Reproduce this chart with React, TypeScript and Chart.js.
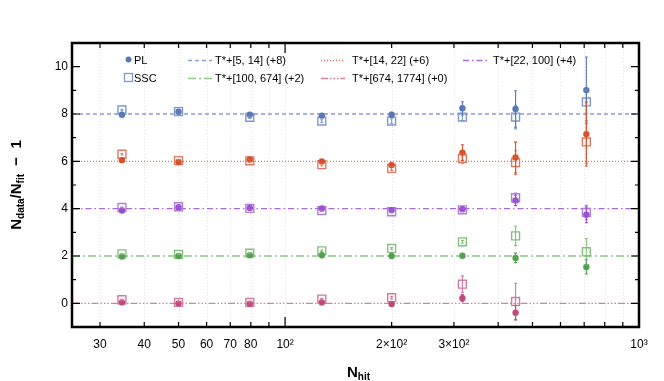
import { useEffect, useRef } from "react";
import { Chart, registerables } from "chart.js";
Chart.register(...registerables);

// ---- data ----
const nHit = [34.6, 50, 79.5, 127, 200, 317, 448, 710];

const plBlue = [7.97, 8.1, 7.97, 7.93, 7.97, 8.24, 8.21, 9.01];
const plBlueErr = [0.03, 0.04, 0.04, 0.05, 0.1, 0.28, 0.77, 1.4];
const sscBlue = [8.17, 8.1, 7.86, 7.7, 7.7, 7.87, 7.87, 8.51];
const sscBlueErr = [0.03, 0.04, 0.05, 0.06, 0.1, 0.15, 0.5, 0.5];

const plRed = [6.05, 5.97, 6.08, 5.99, 5.84, 6.37, 6.16, 7.15];
const plRedErr = [0.03, 0.04, 0.05, 0.06, 0.1, 0.33, 0.65, 1.35];
const sscRed = [6.3, 6.03, 6.02, 5.86, 5.7, 6.12, 5.95, 6.82];
const sscRedErr = [0.03, 0.04, 0.05, 0.06, 0.08, 0.2, 0.5, 0.9];

const plPurple = [3.92, 4.06, 4.03, 4.01, 3.94, 3.98, 4.35, 3.74];
const plPurpleErr = [0.02, 0.03, 0.03, 0.04, 0.05, 0.08, 0.22, 0.33];
const sscPurple = [4.05, 4.08, 4.01, 3.92, 3.87, 3.95, 4.46, 3.84];
const sscPurpleErr = [0.02, 0.03, 0.03, 0.04, 0.05, 0.08, 0.2, 0.3];

const plGreen = [1.98, 2.0, 2.03, 2.03, 2.0, 2.01, 1.92, 1.54];
const plGreenErr = [0.02, 0.02, 0.03, 0.03, 0.04, 0.06, 0.2, 0.3];
const sscGreen = [2.09, 2.07, 2.12, 2.22, 2.32, 2.6, 2.85, 2.18];
const sscGreenErr = [0.02, 0.02, 0.03, 0.03, 0.04, 0.06, 0.41, 0.56];

const plPink = [0.04, 0.0, -0.02, 0.04, -0.03, 0.22, -0.4, null];
const plPinkErr = [0.02, 0.02, 0.03, 0.03, 0.05, 0.15, 0.3, null];
const sscPink = [0.15, 0.04, 0.04, 0.18, 0.24, 0.81, 0.08, null];
const sscPinkErr = [0.02, 0.02, 0.03, 0.03, 0.05, 0.35, 0.77, null];

const seriesLabels = [
  "T*+[5, 14] (+8)",
  "T*+[14, 22] (+6)",
  "T*+[22, 100] (+4)",
  "T*+[100, 674] (+2)",
  "T*+[674, 1774] (+0)",
];
const seriesOffsets = [8, 6, 4, 2, 0];

const xTickValues = [30, 40, 50, 60, 70, 80, 90, 100, 200, 300, 400, 500, 600, 700, 800, 900, 1000];
const xTickLabels = ["30", "40", "50", "60", "70", "80", "", "10²", "2×10²", "3×10²", "", "", "", "", "", "", "10³"];
const xMajor = [100, 1000];
const yTickValues = [0, 2, 4, 6, 8, 10];
const yMinorValues = [-1, 1, 3, 5, 7, 9, 11];

// ---- styles ----
const styles = [
  { dot: "#5a77b6", sq: "#7f97cb", line: "#86a0d2", dash: [4, 3] },
  { dot: "#d4512c", sq: "#df7a62", line: "#e4725a", dash: [1, 2] },
  { dot: "#9b4fcf", sq: "#b07cdc", line: "#a86ad8", dash: [6, 3, 1.5, 3] },
  { dot: "#51a150", sq: "#84c07c", line: "#8fc889", dash: [8, 3, 2, 3] },
  { dot: "#bf4b7e", sq: "#d27aa1", line: "#d680a5", dash: [7, 2, 1.5, 2, 1.5, 2, 1.5, 2] },
];

const plSets = [plBlue, plRed, plPurple, plGreen, plPink];
const plErrs = [plBlueErr, plRedErr, plPurpleErr, plGreenErr, plPinkErr];
const sscSets = [sscBlue, sscRed, sscPurple, sscGreen, sscPink];
const sscErrs = [sscBlueErr, sscRedErr, sscPurpleErr, sscGreenErr, sscPinkErr];

const FONT = '"Liberation Sans", Arial, Helvetica, sans-serif';

function drawRich(ctx: CanvasRenderingContext2D, parts: [string, boolean][], x: number, y: number, big: number, small: number, center: boolean) {
  const fontOf = (sub: boolean) => `bold ${sub ? small : big}px ${FONT}`;
  let total = 0;
  for (const [t, sub] of parts) {
    ctx.font = fontOf(sub);
    total += ctx.measureText(t).width;
  }
  let cx = center ? x - total / 2 : x;
  ctx.textBaseline = "alphabetic";
  ctx.textAlign = "left";
  for (const [t, sub] of parts) {
    ctx.font = fontOf(sub);
    ctx.fillText(t, cx, sub ? y + 3 : y);
    cx += ctx.measureText(t).width;
  }
}

const plugin = {
  id: "custom",
  beforeDatasetsDraw(chart: any) {
    const { ctx, chartArea: a, scales } = chart;
    const xs = scales.x;
    ctx.save();
    ctx.strokeStyle = "#e2e2e2";
    ctx.lineWidth = 1;
    ctx.setLineDash([1, 2]);
    for (const v of xTickValues) {
      const px = Math.round(xs.getPixelForValue(v)) + 0.5;
      ctx.beginPath();
      ctx.moveTo(px, a.top);
      ctx.lineTo(px, a.bottom);
      ctx.stroke();
    }
    ctx.restore();
  },
  afterDatasetsDraw(chart: any) {
    const { ctx, scales } = chart;
    const xs = scales.x, ys = scales.y;
    ctx.save();
    ctx.lineWidth = 1.1;
    const drawErr = (vals: (number | null)[], errs: (number | null)[], color: string) => {
      ctx.strokeStyle = color;
      vals.forEach((v, i) => {
        const e = errs[i];
        if (v == null || e == null) return;
        const px = xs.getPixelForValue(nHit[i]);
        const p1 = ys.getPixelForValue(v - e);
        const p2 = ys.getPixelForValue(v + e);
        ctx.beginPath();
        ctx.moveTo(px, p1);
        ctx.lineTo(px, p2);
        ctx.moveTo(px - 1.5, p1);
        ctx.lineTo(px + 1.5, p1);
        ctx.moveTo(px - 1.5, p2);
        ctx.lineTo(px + 1.5, p2);
        ctx.stroke();
      });
    };
    for (let s = 0; s < 5; s++) {
      drawErr(sscSets[s], sscErrs[s], styles[s].sq);
      drawErr(plSets[s], plErrs[s], styles[s].dot);
    }
    ctx.restore();
  },
  afterDraw(chart: any) {
    const { ctx, chartArea: a, scales } = chart;
    const xs = scales.x, ys = scales.y;
    ctx.save();
    // ticks (inward)
    ctx.strokeStyle = "#000";
    ctx.lineWidth = 1.2;
    ctx.beginPath();
    for (const v of xTickValues) {
      const px = xs.getPixelForValue(v);
      const len = xMajor.includes(v) ? 10 : 5;
      ctx.moveTo(px, a.bottom);
      ctx.lineTo(px, a.bottom - len);
      ctx.moveTo(px, a.top);
      ctx.lineTo(px, a.top + len);
    }
    for (const v of yTickValues) {
      const py = ys.getPixelForValue(v);
      ctx.moveTo(a.left, py);
      ctx.lineTo(a.left + 8, py);
      ctx.moveTo(a.right, py);
      ctx.lineTo(a.right - 8, py);
    }
    for (const v of yMinorValues) {
      const py = ys.getPixelForValue(v);
      ctx.moveTo(a.left, py);
      ctx.lineTo(a.left + 4, py);
      ctx.moveTo(a.right, py);
      ctx.lineTo(a.right - 4, py);
    }
    ctx.stroke();
    // frame
    ctx.lineWidth = 2.5;
    ctx.strokeRect(a.left, a.top, a.right - a.left, a.bottom - a.top);

    // legend
    const row1 = 60.5, row2 = 78.5;
    ctx.font = `11px ${FONT}`;
    ctx.textBaseline = "middle";
    ctx.textAlign = "left";
    // PL
    ctx.fillStyle = styles[0].dot;
    ctx.beginPath();
    ctx.arc(128.5, row1 - 1, 3, 0, Math.PI * 2);
    ctx.fill();
    ctx.fillStyle = "#000";
    ctx.fillText("PL", 134, row1);
    // SSC
    ctx.strokeStyle = styles[0].sq;
    ctx.lineWidth = 1.3;
    ctx.strokeRect(124.5, row2 - 5, 8, 8);
    ctx.fillText("SSC", 134, row2);
    const legendPos = [
      { lx: 188, tx: 215, y: row1 },
      { lx: 321, tx: 352, y: row1 },
      { lx: 463, tx: 493, y: row1 },
      { lx: 188, tx: 215, y: row2 },
      { lx: 321, tx: 352, y: row2 },
    ];
    legendPos.forEach((p, i) => {
      ctx.strokeStyle = styles[i].line;
      ctx.lineWidth = 1.3;
      ctx.setLineDash(styles[i].dash);
      ctx.beginPath();
      ctx.moveTo(p.lx, p.y);
      ctx.lineTo(p.lx + 24, p.y);
      ctx.stroke();
      ctx.setLineDash([]);
      ctx.fillStyle = "#000";
      ctx.fillText(seriesLabels[i], p.tx, p.y);
    });

    // axis titles
    ctx.fillStyle = "#000";
    drawRich(ctx, [["N", false], ["hit", true]], (a.left + a.right) / 2 + 3, 377, 15, 10, true);
    ctx.save();
    ctx.translate(21, (a.top + a.bottom) / 2);
    ctx.rotate(-Math.PI / 2);
    drawRich(ctx, [["N", false], ["data", true], ["/N", false], ["fit", true], ["  −  1", false]], 0, 0, 15, 10, true);
    ctx.restore();
    ctx.restore();
  },
};

export default function App() {
  const ref = useRef<HTMLCanvasElement | null>(null);
  useEffect(() => {
    document.body.style.margin = "0";
    const canvas = ref.current!;
    const datasets: any[] = [];
    for (let s = 0; s < 5; s++) {
      datasets.push({
        label: "PL " + seriesLabels[s],
        data: nHit.map((x, i) => ({ x, y: plSets[s][i] })).filter((p) => p.y != null),
        pointStyle: "circle",
        pointRadius: 3.2,
        backgroundColor: styles[s].dot,
        borderColor: styles[s].dot,
        borderWidth: 0,
        showLine: false,
        order: 1,
      });
      datasets.push({
        label: "SSC " + seriesLabels[s],
        data: nHit.map((x, i) => ({ x, y: sscSets[s][i] })).filter((p) => p.y != null),
        pointStyle: "rect",
        pointRadius: 5.6,
        backgroundColor: "rgba(255,255,255,0)",
        borderColor: styles[s].sq,
        borderWidth: 1.4,
        showLine: false,
        order: 2,
      });
      datasets.push({
        label: seriesLabels[s],
        data: [
          { x: 25, y: seriesOffsets[s] },
          { x: 1000, y: seriesOffsets[s] },
        ],
        showLine: true,
        pointRadius: 0,
        borderColor: styles[s].line,
        borderWidth: 1.3,
        borderDash: styles[s].dash,
        order: 5,
      });
    }
    const chart = new Chart(canvas, {
      type: "scatter",
      data: { datasets },
      options: {
        animation: false,
        responsive: false,
        devicePixelRatio: 1,
        layout: { padding: { top: 43, right: 25, bottom: 0, left: 0 } },
        plugins: { legend: { display: false }, tooltip: { enabled: false }, title: { display: false } },
        scales: {
          x: {
            type: "logarithmic",
            min: 25,
            max: 1000,
            afterBuildTicks: (scale: any) => {
              scale.ticks = xTickValues.map((v) => ({ value: v }));
            },
            afterFit: (scale: any) => {
              scale.height = 54;
            },
            grid: { display: false, drawTicks: false, tickLength: 0 },
            border: { display: false },
            ticks: {
              autoSkip: false,
              maxRotation: 0,
              minRotation: 0,
              padding: 10,
              color: "#000",
              font: { size: 12, family: FONT },
              callback: (_v: any, idx: number) => xTickLabels[idx],
            },
          },
          y: {
            type: "linear",
            min: -1,
            max: 11,
            afterBuildTicks: (scale: any) => {
              scale.ticks = yTickValues.map((v) => ({ value: v }));
            },
            afterFit: (scale: any) => {
              scale.width = 72;
            },
            grid: { display: false, drawTicks: false, tickLength: 0 },
            border: { display: false },
            ticks: {
              padding: 4,
              color: "#000",
              font: { size: 12, family: FONT },
              callback: (v: any) => String(v),
            },
          },
        },
      },
      plugins: [plugin],
    } as any);
    return () => chart.destroy();
  }, []);
  return (
    <div style={{ position: "absolute", left: 0, top: 0, width: 664, height: 381, background: "#fff" }}>
      <canvas ref={ref} width={664} height={381} style={{ width: 664, height: 381, display: "block" }} />
    </div>
  );
}
